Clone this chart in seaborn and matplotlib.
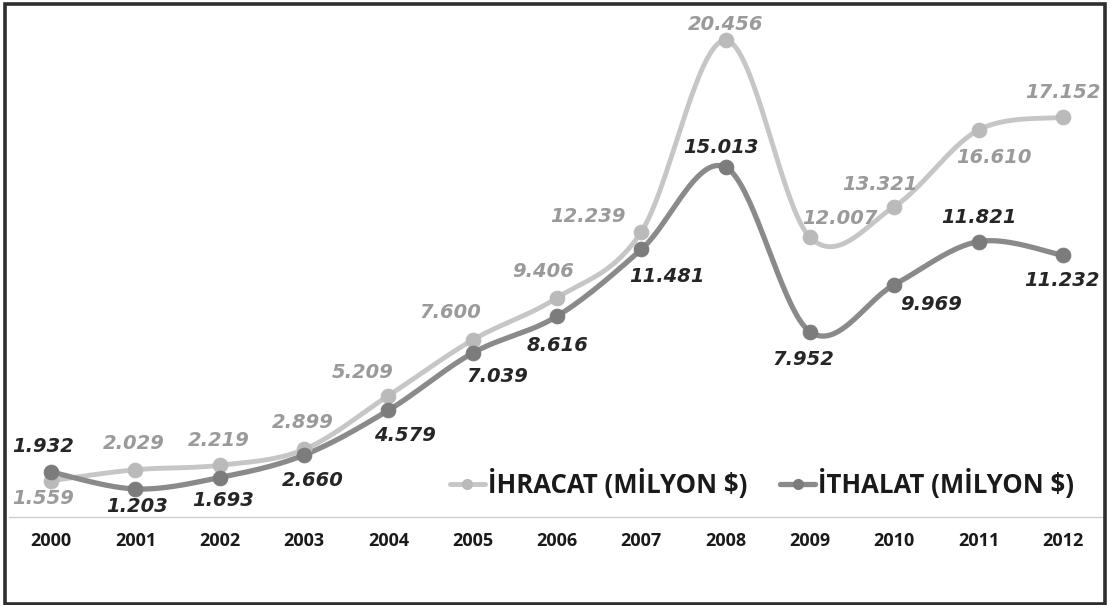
import numpy as np
import pandas as pd
import matplotlib
matplotlib.use("Agg")
import matplotlib.pyplot as plt
from matplotlib.lines import Line2D
from matplotlib.patches import Rectangle
import seaborn as sns

# --- data -------------------------------------------------------------
years = ["2000", "2001", "2002", "2003", "2004", "2005", "2006",
         "2007", "2008", "2009", "2010", "2011", "2012"]
ihracat = [1.559, 2.029, 2.219, 2.899, 5.209, 7.600, 9.406,
           12.239, 20.456, 12.007, 13.321, 16.610, 17.152]
ithalat = [1.932, 1.203, 1.693, 2.660, 4.579, 7.039, 8.616,
           11.481, 15.013, 7.952, 9.969, 11.821, 11.232]
ihracat_label = "İHRACAT (MİLYON $)"
ithalat_label = "İTHALAT (MİLYON $)"

# label placement relative to each marker, in pixels (dx, dy)
ihracat_offsets = [(-8, -18), (-2, 26), (-1, 25), (-1, 27), (-26, 23),
                   (-22, 27), (-14, 26), (-53, 15), (0, 16), (30, 19),
                   (-14, 22), (15, -28), (0, 25)]
ithalat_offsets = [(-8, 25), (2, -18), (3, -23), (9, -25), (17, -25),
                   (25, -24), (1, -29), (26, -27), (-5, 20), (-7, -28),
                   (37, -20), (0, 24), (-1, -25)]

IHR_LINE, IHR_MARK, IHR_TEXT = "#c6c6c6", "#bababa", "#9a9a9a"
ITH_LINE, ITH_MARK, ITH_TEXT = "#8a8a8a", "#7c7c7c", "#262626"


def smooth_curve(xs, ys, n=40):
    """Excel-style smoothed line: cubic Bezier segments with
    Catmull-Rom control points."""
    p = np.column_stack([xs, ys]).astype(float)
    m = len(p)
    t = np.linspace(0, 1, n)[:, None]
    segs = []
    for i in range(m - 1):
        p0 = p[max(i - 1, 0)]
        p1 = p[i]
        p2 = p[i + 1]
        p3 = p[min(i + 2, m - 1)]
        c1 = p1 + (p2 - p0) / 6.0
        c2 = p2 - (p3 - p1) / 6.0
        seg = ((1 - t) ** 3) * p1 + 3 * ((1 - t) ** 2) * t * c1 \
            + 3 * (1 - t) * t ** 2 * c2 + t ** 3 * p2
        segs.append(seg if i == 0 else seg[1:])
    out = np.vstack(segs)
    return out[:, 0], out[:, 1]


sns.set_theme(style="white")
plt.rcParams["font.family"] = ["DejaVu Sans"]

W, H = 1112, 605
fig = plt.figure(figsize=(W / 100, H / 100), dpi=100)
fig.patch.set_facecolor("white")

ax_left, ax_right = 9, 1105
ax_bottom, ax_top = 517, 4.4
ax = fig.add_axes([ax_left / W, 1 - ax_bottom / H,
                   (ax_right - ax_left) / W, (ax_bottom - ax_top) / H])
ax.set_xlim(-0.5, len(years) - 0.5)
ax.set_ylim(0, 22)

x = np.arange(len(years))
series = [
    (ihracat_label, ihracat, IHR_LINE, IHR_MARK, 3.5),
    (ithalat_label, ithalat, ITH_LINE, ITH_MARK, 3.8),
]

for name, vals, lc, mc, lw in series:
    sx, sy = smooth_curve(x, vals)
    curve = pd.DataFrame({"x": sx, "y": sy, "seri": name})
    sns.lineplot(data=curve, x="x", y="y", sort=False, estimator=None,
                 color=lc, linewidth=lw, ax=ax, legend=False,
                 solid_capstyle="round", zorder=2)
    pts = pd.DataFrame({"x": x, "y": vals})
    sns.scatterplot(data=pts, x="x", y="y", color=mc, s=110,
                    edgecolor=mc, linewidth=0.8, ax=ax, legend=False,
                    zorder=3)

# value labels
label_font = dict(fontsize=14, fontweight="bold", fontstyle="italic",
                  family="DejaVu Sans", ha="center", va="center",
                  clip_on=False, zorder=4)
for vals, offs, col in [(ihracat, ihracat_offsets, IHR_TEXT),
                        (ithalat, ithalat_offsets, ITH_TEXT)]:
    for xi, v, (dx, dy) in zip(x, vals, offs):
        ax.annotate(f"{v:.3f}", (xi, v), xytext=(dx * 0.72, dy * 0.72),
                    textcoords="offset points", color=col, **label_font)

# axes styling
for side in ["left", "right", "top"]:
    ax.spines[side].set_visible(False)
ax.spines["bottom"].set_color("#cfcfcf")
ax.spines["bottom"].set_linewidth(1.0)
ax.set_yticks([])
ax.set_xticks(x)
ax.set_xticklabels(years, fontsize=13, fontweight="bold",
                   family="Open Sans", color="#1a1a1a")
ax.set_xticks(np.arange(-0.5, len(years), 1.0), minor=True)
ax.tick_params(axis="x", which="major", length=0, pad=11)
ax.tick_params(axis="x", which="minor", length=9, width=1.0,
               direction="inout", color="#cfcfcf")
ax.set_xlabel("")
ax.set_ylabel("")

# legend
handles = [
    Line2D([0], [0], color=IHR_LINE, lw=3.5, marker="o", markersize=7,
           markerfacecolor=IHR_MARK, markeredgecolor=IHR_MARK),
    Line2D([0], [0], color=ITH_LINE, lw=3.8, marker="o", markersize=7,
           markerfacecolor=ITH_MARK, markeredgecolor=ITH_MARK),
]
fig.legend(handles, [ihracat_label, ithalat_label], ncol=2,
           loc="center left", bbox_to_anchor=(450 / W, 1 - 484 / H),
           frameon=False, borderpad=0, borderaxespad=0,
           handlelength=1.36, handletextpad=0.1, columnspacing=1.3,
           prop=dict(family="Open Sans", weight="bold", size=18.5),
           labelcolor="#1a1a1a")

# outer frame
fig.patches.append(Rectangle((5 / W, 1.5 / H), 1100 / W, 600 / H,
                             transform=fig.transFigure, fill=False,
                             edgecolor="#2e2e2e", linewidth=2.6))

fig.savefig("out.png", dpi=100, facecolor="white")
